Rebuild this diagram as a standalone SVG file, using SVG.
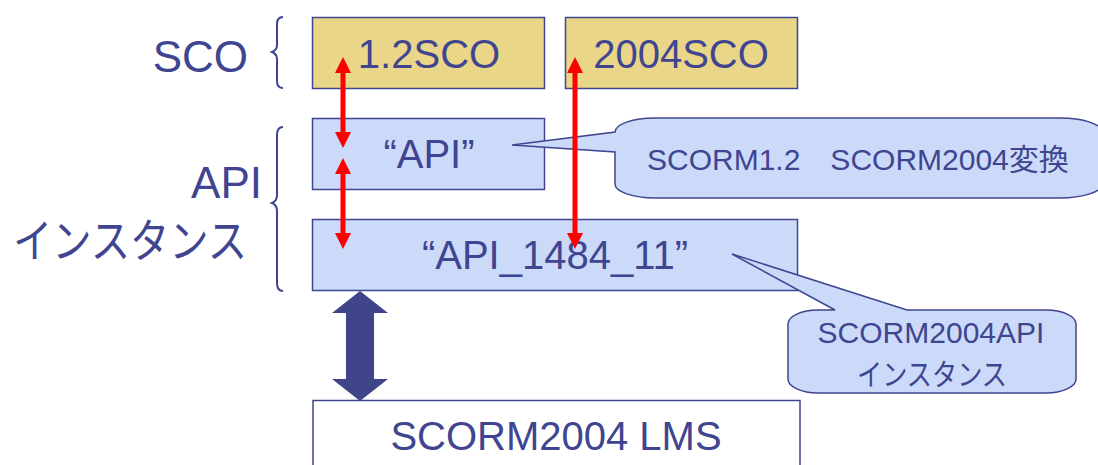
<svg xmlns="http://www.w3.org/2000/svg" width="1098" height="465" viewBox="0 0 1098 465">
<style>
text{font-family:"Liberation Sans",Arial,"Noto Sans CJK JP",sans-serif;fill:#3F4590}
.box{stroke:#3F4590;stroke-width:1.5}
.sco{fill:#EAD688}
.api{fill:#CCDAF9}
.lms{fill:#FFFFFF}
.brace{fill:none;stroke:#3F4590;stroke-width:2}
.call{fill:#CCDAF9;stroke:#3F4590;stroke-width:1.5}
.red{fill:#FF0000}
.big{fill:#404489}
</style>
<g id="labels">
<text x="248" y="72" font-size="44" text-anchor="end">SCO</text>
<text x="262" y="198" font-size="44" text-anchor="end">API</text>
<text x="13" y="257" font-size="46" textLength="234" lengthAdjust="spacingAndGlyphs">インスタンス</text>
</g>
<g id="braces">
<path class="brace" d="M283,17 Q277,17 277,24 V45 Q277,50 272,52 Q277,54 277,59 V81 Q277,88 283,88"/>
<path class="brace" d="M283,127 Q277,127 277,135 V195 Q277,201 272,203 Q277,205 277,211 V283 Q277,291 283,291"/>
</g>
<g id="sco12"><rect class="box sco" x="312.5" y="17.5" width="232" height="71"/><text x="429" y="68" font-size="40" text-anchor="middle">1.2SCO</text></g>
<g id="sco2004"><rect class="box sco" x="565.5" y="17.5" width="232" height="71"/><text x="681" y="68" font-size="40" text-anchor="middle">2004SCO</text></g>
<g id="api"><rect class="box api" x="312.5" y="118.5" width="232" height="71"/><text x="429" y="168" font-size="40" text-anchor="middle">“API”</text></g>
<g id="api1484"><rect class="box api" x="312.5" y="219.5" width="485" height="71"/><text x="555" y="269" font-size="40" text-anchor="middle">“API_1484_11”</text></g>
<g id="lms"><rect class="box lms" x="313" y="400.5" width="487" height="80"/><text x="556" y="450" font-size="40" text-anchor="middle">SCORM2004 LMS</text></g>
<g id="callout1">
<path class="call" d="M655,118 H1060 A42 14 0 0 1 1102 132 V184 A42 14 0 0 1 1060 198 H655 A40 14 0 0 1 615 184 V152 L512,145 L615,132 A40 14 0 0 1 655,118 Z"/>
<text x="647" y="170" font-size="30">SCORM1.2　SCORM2004変換</text>
</g>
<g id="callout2">
<path class="call" d="M818,310 H835 L732,254 L907,310 H1046 A30 14 0 0 1 1076 324 V379 A30 14 0 0 1 1046 393 H818 A30 14 0 0 1 788 379 V324 A30 14 0 0 1 818 310 Z"/>
<text x="931" y="343" font-size="30" text-anchor="middle">SCORM2004API</text>
<text x="932" y="385" font-size="30" text-anchor="middle" textLength="150" lengthAdjust="spacingAndGlyphs">インスタンス</text>
</g>
<g id="connectors">
<path class="red" d="M343,57 L351,73 L345.5,73 L345.5,132 L351,132 L343,148 L335,132 L340.5,132 L340.5,73 L335,73 Z"/>
<path class="red" d="M343,158 L351,174 L345.5,174 L345.5,233 L351,233 L343,249 L335,233 L340.5,233 L340.5,174 L335,174 Z"/>
<path class="red" d="M575,57 L583,73 L577.5,73 L577.5,233 L583,233 L575,249 L567,233 L572.5,233 L572.5,73 L567,73 Z"/>
<path class="big" d="M360,291 L388,313 L374,313 L374,379 L388,379 L360,401 L332,379 L346,379 L346,313 L332,313 Z"/>
</g>
</svg>
